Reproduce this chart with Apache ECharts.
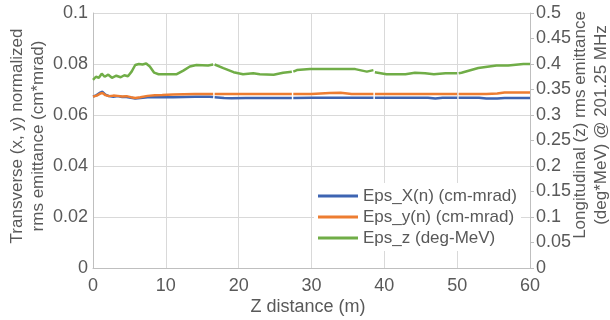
<!DOCTYPE html>
<html>
<head>
<meta charset="utf-8">
<script src="https://cdn.jsdelivr.net/npm/echarts@6/dist/echarts.min.js"></script>
<style>
  html, body { margin: 0; padding: 0; background: #fff; }
  #main_echart { width: 610px; height: 320px; }
</style>
</head>
<body>
<div id="main_echart"></div>
<script>
// z positions (m) for the transverse emittances, null = small break in the trace
var zXY = [0, 0.5, 1, 1.3, 1.7, 2.2, 2.8, 3.4, 4, 4.6,
    5.2, 5.8, 6.5, 7.5, 8.5, 9.5, 11, 12.5, 14, 16,
    16.5, 16.6, 16.7, 18, 19, 21, 24, 27.3, 27.4, 27.5,
    30, 32.5, 34, 35.5, 38.5, 38.6, 38.7, 40, 43, 46,
    47, 48, 50, 50.1, 50.2, 53, 54, 55.5, 56.5, 58, 60];
var epsX = [0.0672, 0.0678, 0.0688, 0.0691, 0.0680, 0.0674, 0.0672, 0.0674, 0.0671, 0.0671,
    0.0668, 0.0665, 0.0667, 0.0670, 0.0671, 0.0670, 0.0670, 0.0671, 0.0672, 0.0672,
    0.0671, null, 0.0670, 0.0667, 0.0666, 0.0667, 0.0667, 0.0667, null, 0.0667,
    0.0668, 0.0668, 0.0668, 0.0668, 0.0668, null, 0.0668, 0.0668, 0.0668, 0.0668,
    0.0665, 0.0668, 0.0668, null, 0.0668, 0.0668, 0.0665, 0.0665, 0.0667, 0.0667, 0.0667];
var epsY = [0.0672, 0.0676, 0.0684, 0.0686, 0.0678, 0.0674, 0.0676, 0.0675, 0.0673, 0.0674,
    0.0670, 0.0667, 0.0670, 0.0675, 0.0677, 0.0678, 0.0680, 0.0681, 0.0682, 0.0682,
    0.0682, null, 0.0682, 0.0682, 0.0682, 0.0682, 0.0682, 0.0682, null, 0.0682,
    0.0682, 0.0686, 0.0687, 0.0682, 0.0682, null, 0.0682, 0.0682, 0.0682, 0.0682,
    0.0682, 0.0682, 0.0682, null, 0.0682, 0.0682, 0.0682, 0.0684, 0.0688, 0.0688, 0.0688];

// z positions (m) for the longitudinal emittance
var zZ = [0, 0.4, 0.8, 1.2, 1.6, 2.1, 2.6, 3.2, 3.8, 4.3,
    4.8, 5.3, 5.8, 6.3, 6.8, 7.3, 7.8, 8.4, 9.0, 10,
    11.5, 12.4, 13.3, 14.2, 15.8, 16.5, 16.6, 16.7, 17.9, 19.3,
    20.6, 22.0, 22.9, 24.8, 26.1, 27.3, 27.4, 27.5, 28, 29.8,
    36, 37.6, 38.5, 38.6, 38.7, 40.3, 42.9, 44.2, 45.6, 46.8,
    48.4, 50, 50.1, 50.2, 50.6, 52.9, 55.4, 57, 59.1, 60];
var epsZ = [0.369, 0.375, 0.373, 0.381, 0.375, 0.379, 0.373, 0.377, 0.374, 0.378,
    0.376, 0.385, 0.398, 0.400, 0.399, 0.401, 0.395, 0.383, 0.380, 0.380,
    0.380, 0.387, 0.395, 0.398, 0.397, 0.399, null, 0.399, 0.392, 0.384,
    0.380, 0.382, 0.380, 0.379, 0.383, 0.385, null, 0.385, 0.388, 0.390,
    0.390, 0.385, 0.388, null, 0.384, 0.380, 0.380, 0.383, 0.382, 0.380,
    0.382, 0.382, null, 0.382, 0.383, 0.392, 0.397, 0.397, 0.400, 0.400];

var xTicks = [0, 60, 10];
var leftTicks = [0, 0.1, 0.02];
var rightTicks = [0, 0.5, 0.05];

var seriesNames = ['Eps_X(n) (cm-mrad)', 'Eps_y(n) (cm-mrad)', 'Eps_z (deg-MeV)'];
var colors = ['#3d64b2', '#ed7d31', '#70ad47'];

function pairs(xs, ys) {
    var out = [];
    for (var i = 0; i < xs.length; i++) {
        out.push([xs[i], ys[i] === null ? '-' : ys[i]]);
    }
    return out;
}

var txt = '#595959';
var font = '"Liberation Sans", Arial, sans-serif';

var myChart = echarts.init(document.getElementById('main_echart'));

var option = {
    animation: false,
    color: colors,
    textStyle: { fontFamily: font },
    grid: { left: 93, right: 80, top: 13, bottom: 52 },
    legend: {
        orient: 'vertical',
        left: 314,
        top: 183,
        padding: [3, 4, 3, 4],
        backgroundColor: '#fff',
        itemWidth: 40,
        itemHeight: 3,
        itemGap: 1,
        icon: 'rect',
        textStyle: { color: txt, fontSize: 17, lineHeight: 20, fontFamily: font },
        data: seriesNames
    },
    xAxis: {
        type: 'value',
        min: xTicks[0], max: xTicks[1], interval: xTicks[2],
        axisLine: { lineStyle: { color: '#bfbfbf', width: 1 } },
        axisTick: { show: false },
        axisLabel: { color: txt, fontSize: 18, margin: 9 },
        splitLine: { lineStyle: { color: '#d9d9d9' } }
    },
    yAxis: [{
        type: 'value',
        min: leftTicks[0], max: leftTicks[1], interval: leftTicks[2],
        axisLine: { show: true, lineStyle: { color: '#bfbfbf' } },
        axisTick: { show: false },
        axisLabel: { color: txt, fontSize: 18, margin: 5 },
        splitLine: { lineStyle: { color: '#d9d9d9' } }
    }, {
        type: 'value',
        position: 'right',
        min: rightTicks[0], max: rightTicks[1], interval: rightTicks[2],
        axisLine: { show: true, lineStyle: { color: '#bfbfbf' } },
        axisTick: { show: true, length: 4, lineStyle: { color: '#bfbfbf' } },
        axisLabel: { color: txt, fontSize: 18, margin: 6 },
        splitLine: { show: false }
    }],
    graphic: [{
        type: 'text',
        x: 28, y: 136,
        rotation: Math.PI / 2,
        style: {
            text: 'Transverse (x, y) normalized\nrms emittance (cm*mrad)',
            fill: txt, font: '17px ' + font,
            align: 'center', verticalAlign: 'middle', lineHeight: 21
        }
    }, {
        type: 'text',
        x: 591, y: 125,
        rotation: Math.PI / 2,
        style: {
            text: 'Longitudinal (z) rms emittance\n(deg*MeV) @ 201.25 MHz',
            fill: txt, font: '17px ' + font,
            align: 'center', verticalAlign: 'middle', lineHeight: 21
        }
    }, {
        type: 'text',
        x: 308, y: 307,
        style: {
            text: 'Z distance (m)',
            fill: txt, font: '18px ' + font,
            align: 'center', verticalAlign: 'middle'
        }
    }],
    series: [{
        name: seriesNames[0],
        type: 'line',
        yAxisIndex: 0,
        showSymbol: false,
        symbol: 'none',
        lineStyle: { width: 2.5 },
        data: pairs(zXY, epsX)
    }, {
        name: seriesNames[1],
        type: 'line',
        yAxisIndex: 0,
        showSymbol: false,
        symbol: 'none',
        lineStyle: { width: 2.5 },
        data: pairs(zXY, epsY)
    }, {
        name: seriesNames[2],
        type: 'line',
        yAxisIndex: 1,
        showSymbol: false,
        symbol: 'none',
        lineStyle: { width: 2.5 },
        data: pairs(zZ, epsZ)
    }]
};

myChart.setOption(option);
</script>
</body>
</html>
